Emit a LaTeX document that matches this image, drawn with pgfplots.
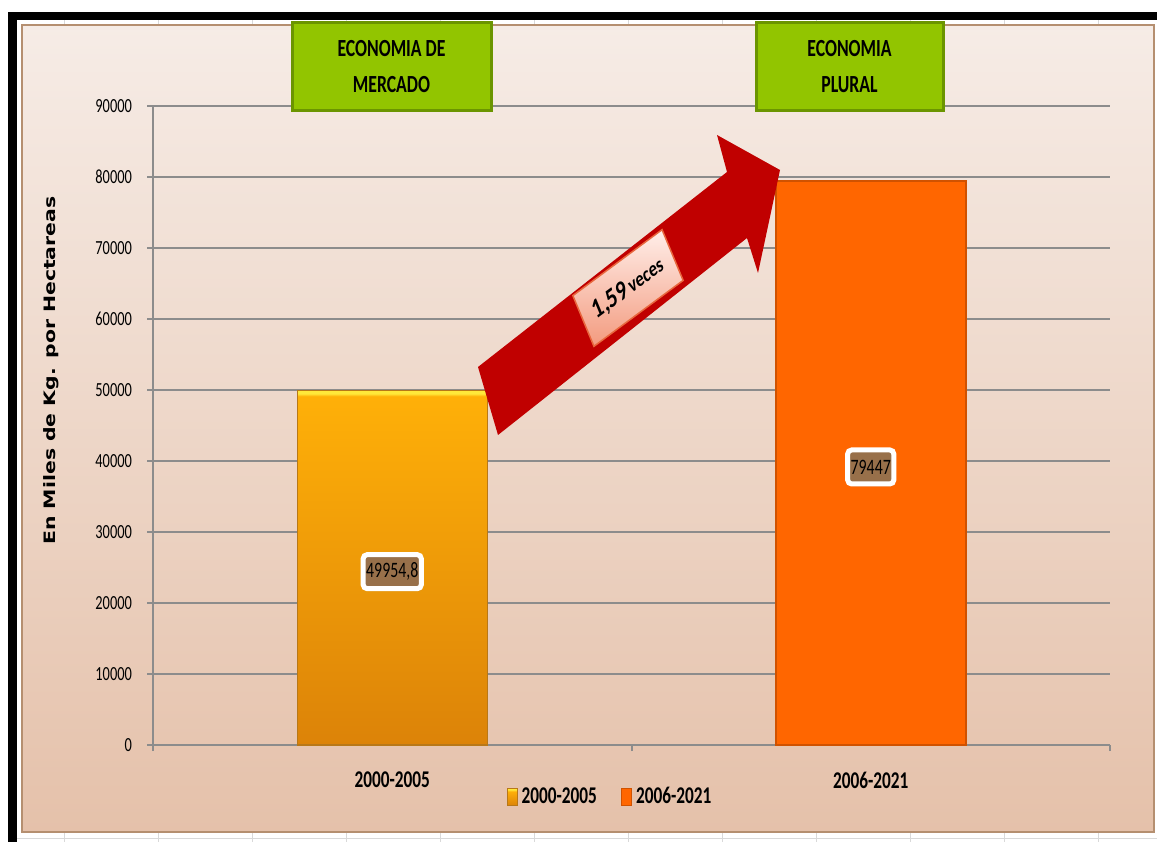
\documentclass[border=0pt]{standalone}
\usepackage{pgfplots}
\pgfplotsset{compat=1.18}
\usepackage{fontspec}
\usetikzlibrary{shadows}
\setmainfont{Carlito}[FakeStretch=0.72]
\newfontfamily\plainfont{Carlito}
\newfontfamily\ylfont{DejaVu Sans}
\definecolor{bgtop}{HTML}{F6ECE6}
\definecolor{bgbot}{HTML}{E5C1AA}
\definecolor{bgedge}{HTML}{B58F70}
\definecolor{axgray}{HTML}{8C8C8C}
\definecolor{bar1top}{HTML}{FFB008}
\definecolor{bar1bot}{HTML}{DC8308}
\definecolor{bar1hi}{HTML}{FFE83A}
\definecolor{bar1edge}{HTML}{B87818}
\definecolor{bar2}{HTML}{FF6600}
\definecolor{bar2edge}{HTML}{D05200}
\definecolor{grn}{HTML}{92C500}
\definecolor{grnedge}{HTML}{6B9500}
\definecolor{arrowred}{HTML}{C00000}
\definecolor{lblbrown}{HTML}{98704A}
\definecolor{pinktop}{HTML}{FFEFEA}
\definecolor{pinkbot}{HTML}{F39A7E}
\definecolor{pinkedge}{HTML}{E8673E}
\pgfdeclareverticalshading{barone}{100bp}{color(0bp)=(bar1bot); color(25bp)=(bar1bot); color(74.2bp)=(bar1top); color(74.5bp)=(bar1hi); color(100bp)=(bar1hi)}
\pgfdeclareverticalshading{baronelegend}{100bp}{color(0bp)=(bar1bot); color(25bp)=(bar1bot); color(68bp)=(bar1top); color(70bp)=(bar1hi); color(100bp)=(bar1hi)}
\begin{document}
\begin{tikzpicture}
\begin{scope}[shift={(0pt,421pt)},x=0.5pt,y=-0.5pt]
\useasboundingbox (0,0) rectangle (1157,842);
\fill[white] (0,0) rectangle (1157,842);
\foreach \xx in {64,158,...,1157} {\draw[black!15] (\xx,20) -- (\xx,25); \draw[black!15] (\xx,833) -- (\xx,842);}
\draw[black!15] (17,838) -- (1157,838);
\fill[black] (8,12) rectangle (1157,20);
\fill[black] (8,12) rectangle (17,842);
\shade[top color=bgtop, bottom color=bgbot] (22,25) rectangle (1154,832);
\draw[bgedge, line width=1pt] (22,25) rectangle (1154,832);
\end{scope}
\begin{axis}[
  at={(76.5pt,48.5pt)}, anchor=south west,
  scale only axis, width=478.5pt, height=319.5pt,
  xmin=-0.5, xmax=1.5, ymin=0, ymax=90000,
  axis x line*=bottom, axis y line*=left,
  axis line style={draw=axgray, line width=1pt},
  tick style={draw=axgray, line width=1pt},
  tick align=outside, major tick length=3pt,
  ytick={0,10000,...,90000},
  scaled y ticks=false,
  ymajorgrids, grid style={draw=axgray, line width=1pt},
  xtick={-0.5,0.5,1.5}, xticklabels={,,},
  extra x ticks={0,1}, extra x tick labels={2000-2005,2006-2021},
  extra x tick style={major tick length=0pt},
  xticklabel style={font=\bfseries\fontsize{12}{14}\selectfont, yshift=-10pt},
  yticklabel style={font=\fontsize{10}{12}\selectfont, xshift=-4pt, /pgf/number format/.cd, fixed, 1000 sep={}, assume math mode=true},
  ylabel={\scalebox{1}[0.77]{En Miles de Kg. por Hectareas}},
  ylabel style={font=\ylfont\bfseries\fontsize{10.2}{12}\selectfont, at={(axis description cs:-0.1066,0.586)}, anchor=center},
  legend style={at={(axis description cs:0.4786,-0.0814)}, anchor=center, draw=none, fill=none, font=\bfseries\fontsize{12}{14}\selectfont, /tikz/every even column/.append style={column sep=10pt}},
  legend columns=2,
]
\addplot[ybar, bar width=95pt, bar shift=0pt, draw=bar1edge, line width=0.75pt, shading=barone,
  legend image code/.code={\shade[shading=baronelegend, draw=bar1edge, line width=0.5pt] (0pt,-4.25pt) rectangle (5pt,4.25pt);}]
  coordinates {(0,49954.8)};
\addlegendentry{2000-2005}
\addplot[ybar, bar width=95pt, bar shift=0pt, draw=bar2edge, line width=1.2pt, fill=bar2,
  legend image code/.code={\fill[bar2, draw=bar2edge, line width=0.6pt] (0pt,-4.25pt) rectangle (5pt,4.25pt);}]
  coordinates {(1,79447)};
\addlegendentry{2006-2021}
\addplot[draw=none, mark=none, forget plot, nodes near coords, point meta=explicit symbolic,
  every node near coord/.append style={anchor=center, yshift=-2pt, fill=lblbrown, draw=white, line width=2.5pt, rounded corners=2pt, inner xsep=1.5pt, inner ysep=0pt, minimum height=17pt, text=black, font=\fontsize{11}{13}\selectfont, drop shadow={opacity=0.35, shadow xshift=0.6pt, shadow yshift=-1.2pt}}]
  coordinates {(0,24977.4) [49954,8] (1,39723.5) [79447]};
\end{axis}
\begin{scope}[shift={(0pt,421pt)},x=0.5pt,y=-0.5pt]
\node[fill=grn, draw=grnedge, line width=1.5pt, minimum width=99.5pt, minimum height=44pt, inner sep=0pt, align=center, font=\bfseries\fontsize{12.3}{18}\selectfont] at (391.5,67) {ECONOMIA DE\\MERCADO};
\node[fill=grn, draw=grnedge, line width=1.5pt, minimum width=93.5pt, minimum height=44pt, inner sep=0pt, align=center, font=\bfseries\fontsize{12.3}{18}\selectfont] at (849.5,67) {ECONOMIA\\PLURAL};
\fill[arrowred] (478,367) -- (727,172) -- (717,135) -- (780,170) -- (758,273) -- (747,238) -- (498,435) -- cycle;
\begin{scope}[shift={(628,288)}, xscale=0.75, rotate=29]
\node[transform shape, top color=pinktop, bottom color=pinkbot, draw=pinkedge, line width=0.75pt, minimum width=68pt, minimum height=29pt, inner sep=0pt, font=\plainfont\bfseries] at (0,0) {{\fontsize{14}{14}\selectfont 1,59}\,{\fontsize{11}{11}\selectfont veces}};
\end{scope}
\end{scope}
\end{tikzpicture}
\end{document}
